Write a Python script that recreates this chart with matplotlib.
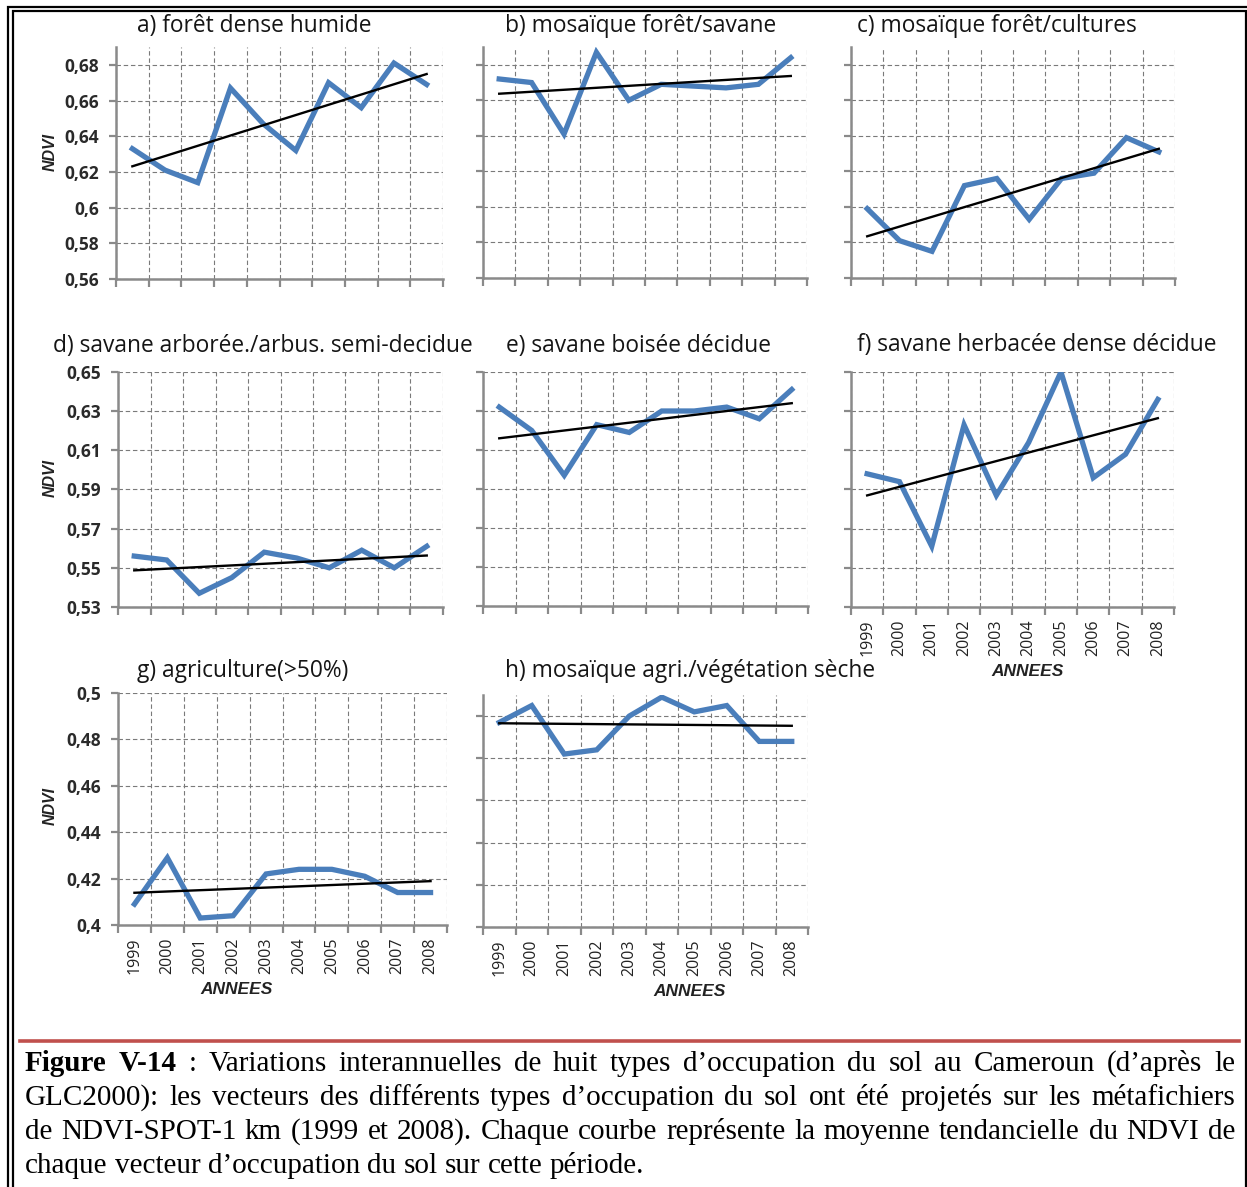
import numpy as np
import matplotlib
matplotlib.use("Agg")
import matplotlib.pyplot as plt
from matplotlib.ticker import FixedLocator, FuncFormatter
from matplotlib.patches import Rectangle
from matplotlib.lines import Line2D

W, H = 1247, 1187

years = ['1999', '2000', '2001', '2002', '2003', '2004', '2005', '2006', '2007', '2008']

# NDVI moyen annuel par type d'occupation du sol
ndvi_a = [0.633, 0.621, 0.614, 0.667, 0.647, 0.632, 0.670, 0.656, 0.681, 0.669]
ndvi_b = [0.672, 0.670, 0.641, 0.687, 0.660, 0.669, 0.668, 0.667, 0.669, 0.684]
ndvi_c = [0.599, 0.581, 0.575, 0.612, 0.616, 0.593, 0.616, 0.619, 0.639, 0.631]
ndvi_d = [0.556, 0.554, 0.537, 0.545, 0.558, 0.555, 0.550, 0.559, 0.550, 0.561]
ndvi_e = [0.632, 0.620, 0.597, 0.623, 0.619, 0.630, 0.630, 0.632, 0.626, 0.641]
ndvi_f = [0.598, 0.594, 0.561, 0.623, 0.587, 0.614, 0.650, 0.596, 0.608, 0.636]
ndvi_g = [0.409, 0.429, 0.403, 0.404, 0.422, 0.424, 0.424, 0.421, 0.414, 0.414]
ndvi_h = [0.497, 0.505, 0.482, 0.484, 0.500, 0.509, 0.502, 0.505, 0.488, 0.488]

titles = ['a) forêt dense humide', 'b) mosaïque forêt/savane', 'c) mosaïque forêt/cultures',
          'd) savane arborée./arbus. semi-decidue', 'e) savane boisée décidue',
          'f) savane herbacée dense décidue', 'g) agriculture(>50%)',
          'h) mosaïque agri./végétation sèche']

ticks_row1 = [0.56, 0.58, 0.60, 0.62, 0.64, 0.66, 0.68]
ticks_row2 = [0.53, 0.55, 0.57, 0.59, 0.61, 0.63, 0.65]
ticks_row3 = [0.40, 0.42, 0.44, 0.46, 0.48, 0.50]

caption_lines = [
    "Figure V-14 : Variations interannuelles de huit types d’occupation du sol au Cameroun (d’après le",
    "GLC2000): les vecteurs des différents  types d’occupation du sol ont été projetés sur les métafichiers",
    "de NDVI-SPOT-1 km (1999 et 2008). Chaque courbe représente la moyenne tendancielle du NDVI de",
    "chaque vecteur d’occupation du sol sur cette période.",
]

BLUE = '#4a7ebb'
GRAY = '#8a8a8a'

fig = plt.figure(figsize=(W / 100, H / 100), dpi=100)


def px_axes(l, t, r, b):
    return fig.add_axes([l / W, 1 - b / H, (r - l) / W, (b - t) / H])


def fmt(v, pos):
    s = ('%.2f' % v).rstrip('0').rstrip('.')
    return s.replace('.', ',')


# panel: data, box (px), ylim, yticks, title pos (x, baseline), y labels?, x labels?
panels = [
    (ndvi_a, (116, 47, 443, 279), (0.56, 0.69), ticks_row1, (137, 32), True, False),
    (ndvi_b, (483, 47, 807, 278), (0.56, 0.69), ticks_row1, (505, 32), False, False),
    (ndvi_c, (851, 47, 1175, 278), (0.56, 0.69), ticks_row1, (857, 32), False, False),
    (ndvi_d, (118, 372, 443, 607), (0.53, 0.65), ticks_row2, (53, 352), True, False),
    (ndvi_e, (483, 372, 808, 606), (0.53, 0.65), ticks_row2, (506, 352), False, False),
    (ndvi_f, (851, 372, 1174, 607), (0.53, 0.65), ticks_row2, (857, 351), False, True),
    (ndvi_g, (118, 693, 447, 925), (0.40, 0.50), ticks_row3, (137, 677), True, True),
    (ndvi_h, (483, 695, 808, 927), (0.40, 0.51), ticks_row3, (505, 677), False, True),
]

x = np.arange(len(years))
for (vals, box, ylim, yticks, tpos, ylab, xlab), title in zip(panels, titles):
    ax = px_axes(*box)
    ax.plot(x, vals, color=BLUE, lw=3.8, solid_joinstyle='miter', zorder=3)
    coef = np.polyfit(x, vals, 1)
    ax.plot([x[0], x[-1]], np.polyval(coef, [x[0], x[-1]]), color='black', lw=1.7, zorder=4)

    ax.set_xlim(-0.5, len(years) - 0.5)
    ax.set_ylim(*ylim)
    ax.yaxis.set_major_locator(FixedLocator(yticks))
    ax.yaxis.set_major_formatter(FuncFormatter(fmt))
    ax.xaxis.set_major_locator(FixedLocator(x))
    ax.xaxis.set_minor_locator(FixedLocator(np.arange(-0.5, len(years), 1.0)))
    ax.set_xticklabels(years)

    for s in ['top', 'right']:
        ax.spines[s].set_visible(False)
    for s in ['left', 'bottom']:
        ax.spines[s].set_color(GRAY)
        ax.spines[s].set_linewidth(1.8)

    ax.grid(axis='y', which='major', color='#7a7a7a', lw=0.8, ls=(0, (4, 2.5)))
    ax.grid(axis='x', which='minor', color='#7a7a7a', lw=0.8, ls=(0, (4, 2.5)))
    ax.set_axisbelow(True)

    ax.tick_params(axis='x', which='major', length=0, pad=9, labelsize=11.5,
                   labelrotation=90, labelcolor='#222222', labelbottom=xlab)
    ax.tick_params(axis='x', which='minor', length=6, width=1.6, color=GRAY, direction='out')
    ax.tick_params(axis='y', length=5, width=1.6, color=GRAY, direction='out', pad=7,
                   labelsize=12.5, labelcolor='#2a2a2a', labelleft=ylab)
    for lb in ax.get_xticklabels():
        lb.set_family('Open Sans')
    for lb in ax.get_yticklabels():
        lb.set_family('Open Sans')
        lb.set_weight('bold')

    fig.text(tpos[0] / W, 1 - tpos[1] / H, title, family='Open Sans', size=16.4,
             color='#151515', ha='left', va='baseline')

# NDVI labels
for yc in [152, 478, 806]:
    fig.text(50 / W, 1 - yc / H, 'NDVI', rotation=90, family='Liberation Sans', style='italic',
             weight='bold', size=11.5, color='#222222', ha='center', va='center')

# ANNEES labels
for xc, yc in [(1028, 672), (237, 990), (690, 992)]:
    fig.text(xc / W, 1 - yc / H, 'ANNEES', family='Liberation Sans', style='italic',
             weight='bold', size=12.5, color='#222222', ha='center', va='center')

# double frame
fig.add_artist(Rectangle((8 / W, -0.1), (1250 - 8) / W, 1.1 - 7 / H, transform=fig.transFigure,
                         fill=False, ec='black', lw=1.6))
fig.add_artist(Rectangle((12.5 / W, -0.1), (1245.5 - 12.5) / W, 1.1 - 11 / H, transform=fig.transFigure,
                         fill=False, ec='black', lw=1.6))

# red separator
fig.add_artist(Line2D([20 / W, 1239 / W], [1 - 1040.5 / H] * 2, color='#c0504d', lw=2.6))

# justified caption
renderer = fig.canvas.get_renderer()
x0, x1 = 25, 1235
cap_size = 21
baselines = [1071, 1105, 1139, 1173]
for i, (line, yb) in enumerate(zip(caption_lines, baselines)):
    words = line.split()
    texts = []
    for j, w in enumerate(words):
        bold = (i == 0 and j < 2)
        t = fig.text(0, 1 - yb / H, w, family='Liberation Serif', size=cap_size,
                     weight='bold' if bold else 'normal', color='black', ha='left', va='baseline')
        texts.append(t)
    widths = [t.get_window_extent(renderer).width for t in texts]
    if i == len(caption_lines) - 1:
        gap = 0.25 * cap_size * 100 / 72
    else:
        gap = (x1 - x0 - sum(widths)) / (len(words) - 1)
    xp = x0
    for t, wd in zip(texts, widths):
        t.set_x(xp / W)
        xp += wd + gap

fig.savefig('out.png', dpi=100)
